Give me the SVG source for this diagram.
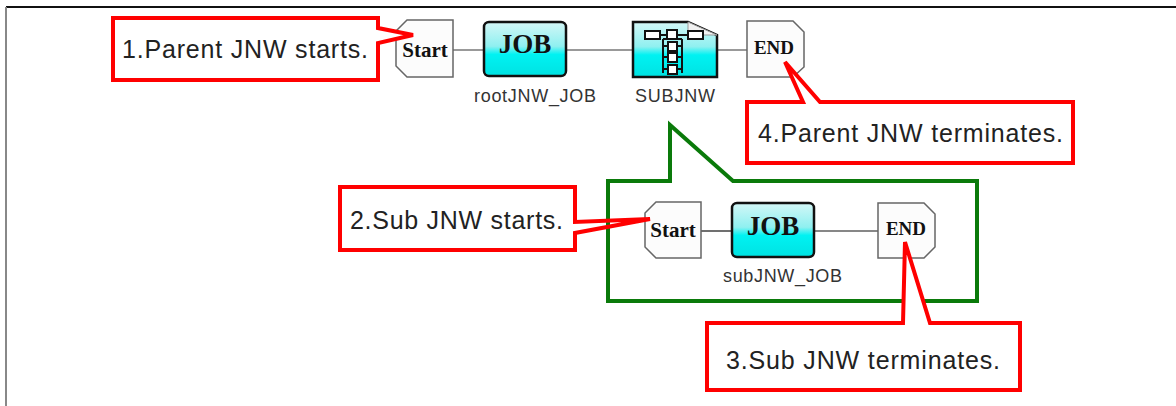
<svg xmlns="http://www.w3.org/2000/svg" width="1176" height="406" viewBox="0 0 1176 406">
<defs>
<linearGradient id="cyan" x1="0" y1="0" x2="0" y2="1">
<stop offset="0" stop-color="#d4f7f7"/>
<stop offset="0.45" stop-color="#8ff0f0"/>
<stop offset="0.6" stop-color="#00f2f2"/>
<stop offset="1" stop-color="#00e2e2"/>
</linearGradient>
<style>
.term{fill:#fcfcfc;stroke:#666;stroke-width:1.5}
.job{fill:url(#cyan);stroke:#111;stroke-width:2.5}
.nt{font-family:"Liberation Serif",serif;font-weight:bold;fill:#111;text-anchor:middle}
.lbl{font-family:"Liberation Sans",Arial,sans-serif;font-size:18px;fill:#333}
.ct{font-family:"Liberation Sans",Arial,sans-serif;font-size:25px;fill:#222}
.red{fill:#fff;stroke:#ff0000;stroke-width:4;stroke-linejoin:miter}
.conn1{stroke:#777;stroke-width:1.5;fill:none}
.conn2{stroke:#111;stroke-width:1.2;fill:none}
.ib{fill:#fff;stroke:#111;stroke-width:2}
.il{stroke:#111;stroke-width:2;fill:none}
</style>
</defs>
<rect width="1176" height="406" fill="#fff"/>
<line x1="6" y1="7" x2="1176" y2="7" stroke="#111" stroke-width="2"/>
<line x1="6" y1="7" x2="6" y2="406" stroke="#888" stroke-width="2"/>

<g id="connectors">
<line class="conn1" x1="453" y1="50" x2="484" y2="50"/>
<line class="conn1" x1="566" y1="50" x2="633" y2="50"/>
<line class="conn1" x1="717" y1="50" x2="747" y2="50"/>
<line class="conn2" x1="701" y1="231" x2="732" y2="231"/>
<line class="conn2" x1="814" y1="231" x2="878" y2="231"/>
</g>

<g id="subnet-callout">
<path d="M608,181 H670 V125 L733,181 H977 V301 H608 Z" fill="none" stroke="#0a7a0a" stroke-width="4" stroke-linejoin="miter"/>
</g>

<g id="start1">
<path class="term" d="M407,20 H453 V77 H407 L396,66 V31 Z"/>
<text class="nt" x="425" y="57" font-size="21">Start</text>
</g>
<g id="rootJNW_JOB">
<rect class="job" x="484" y="22" width="82" height="54" rx="5"/>
<text class="nt" x="525" y="53" font-size="27">JOB</text>
<text class="lbl" x="474" y="102" textLength="122" lengthAdjust="spacing">rootJNW_JOB</text>
</g>
<g id="SUBJNW">
<path class="job" d="M633,22 H688 L717,35 V77 H633 Z"/>
<path d="M688,22 L688,35 L717,35 Z" fill="#f2f2f2" stroke="#999" stroke-width="1"/>
<line class="il" x1="660" y1="35" x2="667" y2="35"/>
<line class="il" x1="677" y1="35" x2="688" y2="35"/>
<path class="il" d="M663,39 V73 M682,39 V73 M663,39 H682"/>
<path class="il" d="M663,57 H668 M677,57 H682 M663,69 H668 M677,69 H682 M663,46 H668 M677,46 H682"/>
<rect class="ib" x="645" y="31" width="15" height="8"/>
<rect class="ib" x="667" y="30" width="10" height="9"/>
<rect class="ib" x="688" y="31" width="15" height="8"/>
<rect class="ib" x="668" y="42" width="9" height="9"/>
<rect class="ib" x="668" y="53" width="9" height="9"/>
<rect class="ib" x="668" y="65" width="9" height="9"/>
<text class="lbl" x="635" y="102" textLength="80" lengthAdjust="spacing">SUBJNW</text>
</g>
<g id="end1">
<path class="term" d="M747,21 H793 L804,32 V67 L793,77 H747 Z"/>
<text class="nt" x="774" y="54" font-size="19">END</text>
</g>

<g id="start2">
<path class="term" d="M656,202 H701 V258 H656 L645,247 V213 Z"/>
<text class="nt" x="673" y="237" font-size="21">Start</text>
</g>
<g id="subJNW_JOB">
<rect class="job" x="732" y="203" width="82" height="54" rx="5"/>
<text class="nt" x="773" y="235" font-size="27">JOB</text>
<text class="lbl" x="723" y="282" textLength="119" lengthAdjust="spacing">subJNW_JOB</text>
</g>
<g id="end2">
<path class="term" d="M878,203 H924 L935,214 V247 L924,258 H878 Z"/>
<text class="nt" x="906" y="235" font-size="19">END</text>
</g>

<g id="callout1">
<path class="red" d="M113,18 H378 V28 L413,35 L378,43 V80 H113 Z"/>
<text class="ct" x="122" y="58" textLength="246" lengthAdjust="spacing">1.Parent JNW starts.</text>
</g>
<g id="callout2">
<path class="red" style="fill:none" d="M340,187 H575 V222 L650,219 L575,233 V250 H340 Z"/>
<text class="ct" x="350" y="229" textLength="213" lengthAdjust="spacing">2.Sub JNW starts.</text>
</g>
<g id="callout3">
<path class="red" d="M707,323 H903 L905,242 L930,323 H1020 V390 H707 Z"/>
<text class="ct" x="726" y="369" textLength="274" lengthAdjust="spacing">3.Sub JNW terminates.</text>
</g>
<g id="callout4">
<path class="red" d="M747,102 H803 L785,62 L820,102 H1073 V163 H747 Z"/>
<text class="ct" x="758" y="142" textLength="305" lengthAdjust="spacing">4.Parent JNW terminates.</text>
</g>
</svg>
